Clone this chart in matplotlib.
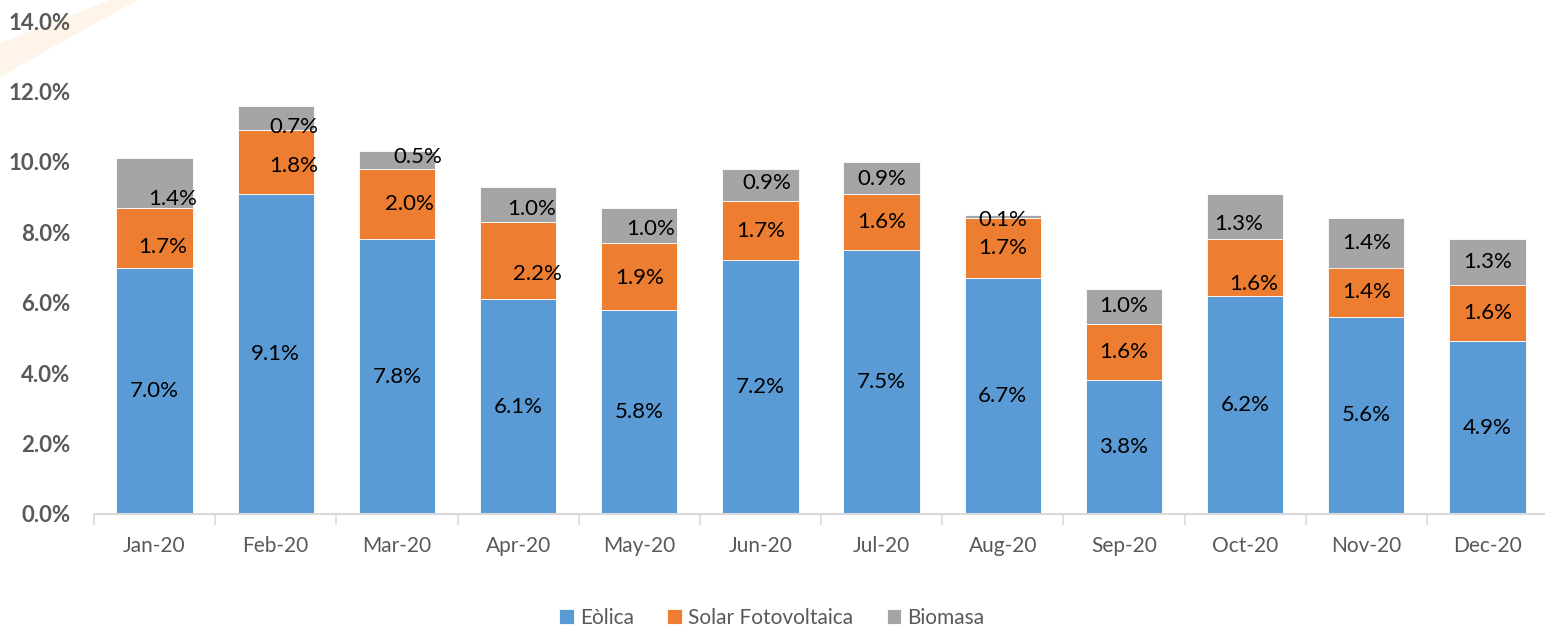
import matplotlib
matplotlib.use('Agg')
import matplotlib.pyplot as plt
import numpy as np
from matplotlib.patches import Polygon

plt.rcParams['font.family'] = ['Lato', 'DejaVu Sans']

months = ['Jan-20', 'Feb-20', 'Mar-20', 'Apr-20', 'May-20', 'Jun-20',
          'Jul-20', 'Aug-20', 'Sep-20', 'Oct-20', 'Nov-20', 'Dec-20']
eolica = [7.0, 9.1, 7.8, 6.1, 5.8, 7.2, 7.5, 6.7, 3.8, 6.2, 5.6, 4.9]
solar = [1.7, 1.8, 2.0, 2.2, 1.9, 1.7, 1.6, 1.7, 1.6, 1.6, 1.4, 1.6]
biomasa = [1.4, 0.7, 0.5, 1.0, 1.0, 0.9, 0.9, 0.1, 1.0, 1.3, 1.4, 1.3]
yticks = [0, 2, 4, 6, 8, 10, 12, 14]

# label nudges (Excel labels were dragged by hand): x shift in bar units, y as fraction of segment
solar_dx = [0.07, 0.15, 0.10, 0.16, 0, 0, 0, 0, 0, 0.07, 0, 0]
solar_fy = [0.34, 0.44, 0.5, 0.32, 0.48, 0.5, 0.5, 0.5, 0.5, 0.21, 0.5, 0.5]
bio_dx = [0.15, 0.15, 0.17, 0.11, 0.09, 0.05, 0, 0, 0, -0.05, 0, 0]
bio_fy = [0.17, 0.12, 0.65, 0.37, 0.38, 0.56, 0.46, -0.5, 0.5, 0.33, 0.5, 0.5]

c_blue, c_orange, c_gray = '#5B9BD5', '#ED7D31', '#A5A5A5'
tick_col = '#595959'

W, H = 1545, 629
fig = plt.figure(figsize=(W / 100, H / 100), dpi=100)

# faint orange streak in top-left corner
fig.patches.append(Polygon([(0, 1 - 43 / H), (0, 1 - 77 / H), (137 / W, 1), (110 / W, 1)],
                           closed=True, transform=fig.transFigure,
                           facecolor='#FEF4EA', edgecolor='none', zorder=-5))

ax = fig.add_axes([94 / W, 1 - 514 / H, 1454 / W, (514 - 21) / H])
ax.patch.set_alpha(0)

x = np.arange(len(months))
e = np.array(eolica)
s = np.array(solar)
b = np.array(biomasa)
bw = 0.63
ax.bar(x, e, bw, color=c_blue, edgecolor='white', linewidth=0.6, label='Eòlica')
ax.bar(x, s, bw, bottom=e, color=c_orange, edgecolor='white', linewidth=0.6,
       label='Solar Fotovoltaica')
ax.bar(x, b, bw, bottom=e + s, color=c_gray, edgecolor='white', linewidth=0.6,
       label='Biomasa')

fs = 16
for i in range(len(months)):
    ax.text(x[i], e[i] / 2, f'{e[i]:.1f}%', ha='center', va='center', fontsize=fs)
    ax.text(x[i] + solar_dx[i], e[i] + s[i] * solar_fy[i], f'{s[i]:.1f}%',
            ha='center', va='center', fontsize=fs)
    ax.text(x[i] + bio_dx[i], e[i] + s[i] + b[i] * bio_fy[i], f'{b[i]:.1f}%',
            ha='center', va='center', fontsize=fs)

ax.set_xlim(-0.5, len(months) - 0.5)
ax.set_ylim(0, 14)
ax.set_yticks(yticks)
ax.set_yticklabels([f'{v:.1f}%' for v in yticks], fontsize=16, fontweight='bold',
                   color=tick_col)
ax.tick_params(axis='y', length=0, pad=17)
ax.set_xticks(x)
ax.set_xticklabels(months, fontsize=15, color=tick_col)
ax.set_xticks(np.arange(-0.5, len(months)), minor=True)
ax.tick_params(axis='x', which='major', length=0, pad=16)
ax.tick_params(axis='x', which='minor', length=8, width=1.2, color='#D9D9D9')

for sp in ['top', 'right', 'left']:
    ax.spines[sp].set_visible(False)
ax.spines['bottom'].set_color('#D9D9D9')
ax.spines['bottom'].set_linewidth(1.5)

leg = fig.legend(loc='center', bbox_to_anchor=(772 / W, 1 - 618 / H), ncol=3,
                 frameon=False, fontsize=15, handlelength=0.7, handleheight=0.7,
                 handletextpad=0.3, columnspacing=1.6)
for t in leg.get_texts():
    t.set_color(tick_col)

fig.savefig('out.png', dpi=100)
